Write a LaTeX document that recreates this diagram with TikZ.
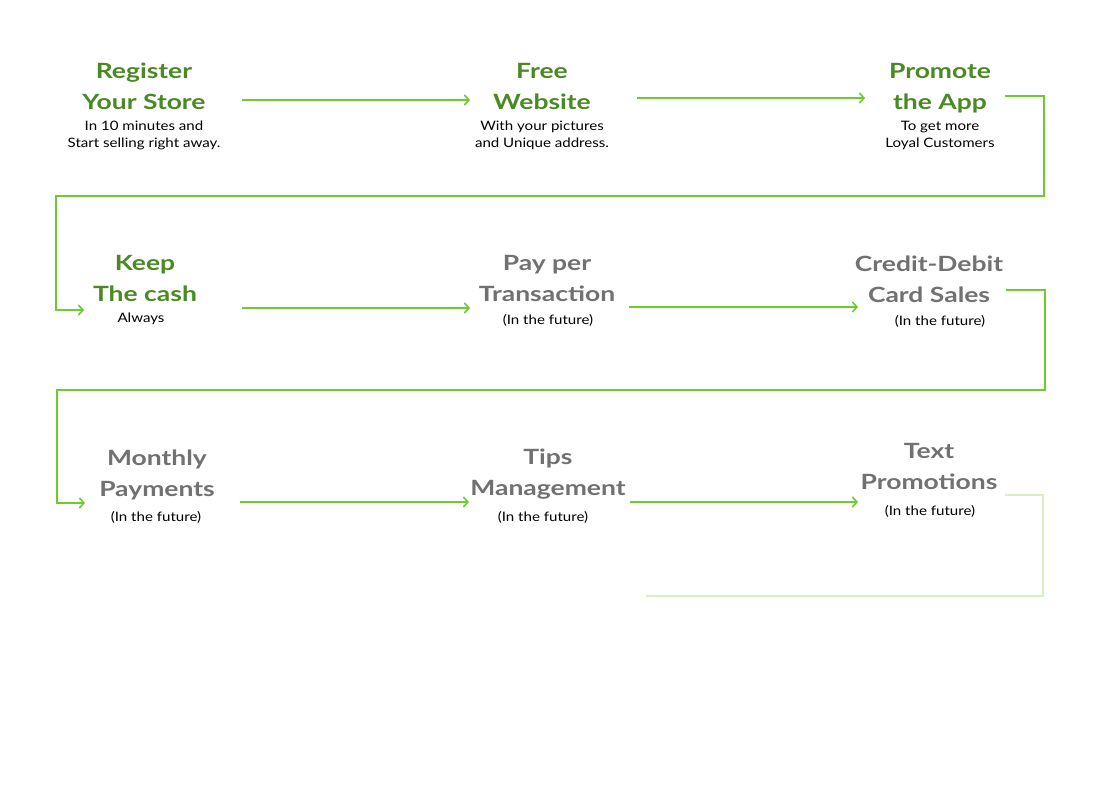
\documentclass[tikz,border=0pt]{standalone}
\usepackage{fontspec}
\setmainfont{Lato}
\newfontfamily\titlefont{Lato}[FakeStretch=1.26]
\newfontfamily\notefont{Lato}[FakeStretch=1.16]
\usetikzlibrary{calc,
arrows.meta,
positioning}
\definecolor{stepgreen}{HTML}{4A8A24}
\definecolor{linegreen}{HTML}{6CCB2D}
\definecolor{fadegreen}{HTML}{D6F0C4}
\definecolor{futuregray}{HTML}{717171}

\begin{document}
\begin{tikzpicture} [x=1pt, y=-1pt,
    >={Straight Barb[length=4.5pt, width=10pt]},
    flow/.style={->, draw=linegreen, line width=1.6pt},
    title node/.style={align=center, inner sep=0pt, text=stepgreen,
        text height=47pt, text depth=0pt,
        font={\titlefont\fontsize{21}{31}\selectfont\bfseries}},
    future node/.style={title node, text=futuregray},
    note node/.style={align=center, inner sep=0pt,
        font={\notefont\fontsize{13}{17}\selectfont}}
  ]

  \path[fill=white, use as bounding box] (0,0) rectangle (1100,800);

  \node [title node] (reg) at (144, 85.5) {Register\\Your Store};
  \node [title node] (web) at (542, 85.5) {Free\\Website};
  \node [title node] (app) at (940, 85.5) {Promote\\the App};

  \node [note node] (regnote) at (144, 135.5) {In 10 minutes and\\Start selling right away.};
  \node [note node] (webnote) at (542, 135.5) {With your pictures\\and Unique address.};
  \node [note node] (appnote) at (940, 135.5) {To get more\\Loyal Customers};

  \node [title node] (keep) at (145, 277.5) {Keep\\The cash};
  \node [future node] (pay) at (547, 277.5) {Pay per\\Transaction};
  \node [future node] (card) at (929, 278.5) {Credit-Debit\\Card Sales};

  \node [note node] (keepnote) at (141, 319) {Always};
  \node [note node] (paynote) at (548, 320) {(In the future)};
  \node [note node] (cardnote) at (940, 321) {(In the future)};

  \node [future node] (month) at (157, 472.5) {Monthly\\Payments};
  \node [future node] (tips) at (548, 471.5) {Tips\\Management};
  \node [future node] (text) at (929, 465.5) {Text\\Promotions};

  \node [note node] (monthnote) at (156, 517) {(In the future)};
  \node [note node] (tipsnote) at (543, 517) {(In the future)};
  \node [note node] (textnote) at (930, 511) {(In the future)};

  \draw [flow] ($(reg.center) + (98, 14.5)$) -- ($(web.center) + (-72, 14.5)$);
  \draw [flow] ($(web.center) + (95, 12.5)$) -- ($(app.center) + (-75, 12.5)$);
  \draw [flow] ($(app.center) + (65, 10.5)$) -- ++(39, 0)
    |- ($(keep.center) + (-89, -81.5)$) |- ($(keep.center) + (-61, 32.5)$);

  \draw [flow] ($(keep.center) + (97, 30.5)$) -- ($(pay.center) + (-77, 30.5)$);
  \draw [flow] ($(pay.center) + (82, 29.5)$) -- ($(card.center) + (-71, 28.5)$);
  \draw [flow] ($(card.center) + (77, 11.5)$) -- ++(39, 0)
    |- ($(month.center) + (-100, -82.5)$) |- ($(month.center) + (-72, 30.5)$);

  \draw [flow] ($(month.center) + (83, 29.5)$) -- ($(tips.center) + (-79, 30.5)$);
  \draw [flow] ($(tips.center) + (82, 30.5)$) -- ($(text.center) + (-71, 36.5)$);

  \coordinate (loopend) at ($(tips.center) + (98, 124.5)$);
  \draw [flow, -, draw=fadegreen] ($(text.center) + (76, 29.5)$) -- ++(38, 0)
    |- (loopend);

\end{tikzpicture}
\end{document}
